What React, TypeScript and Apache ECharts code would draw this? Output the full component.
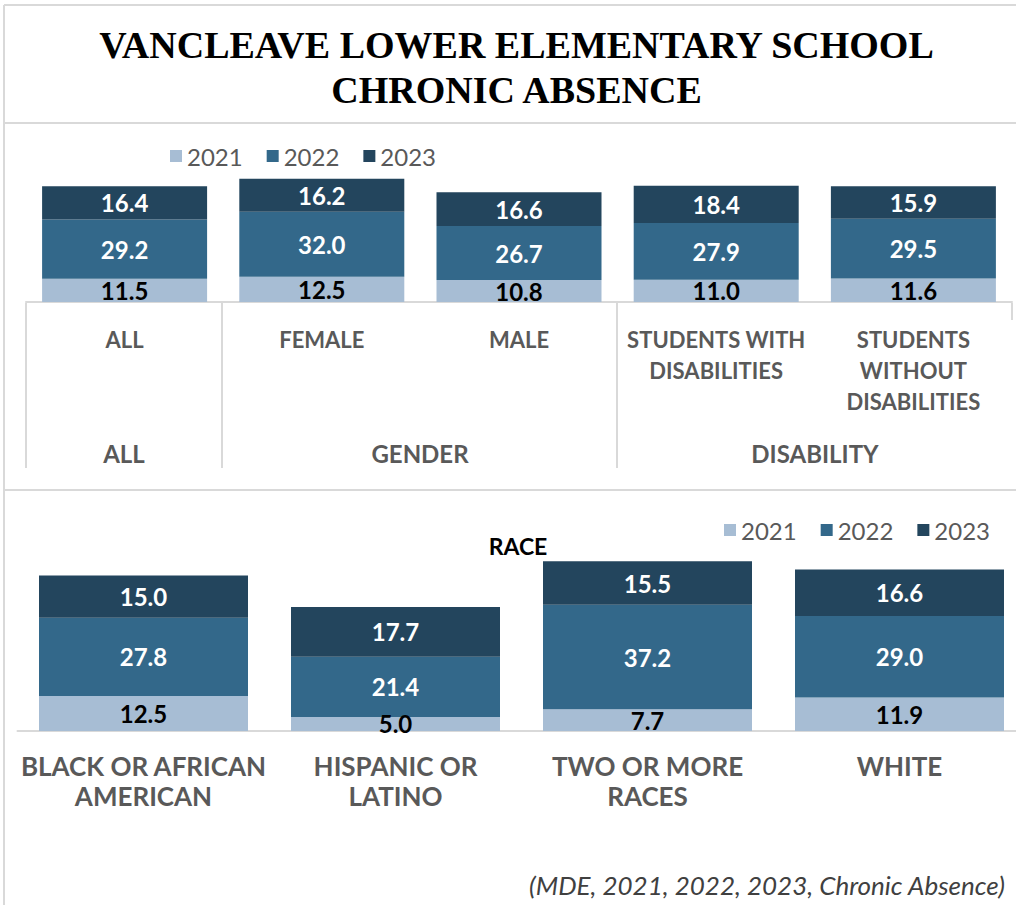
import React, { useEffect, useRef } from "react";
import * as echarts from "echarts";

const years = ["2021", "2022", "2023"];
const colors = ["#a7bdd4", "#33688a", "#23455d"];
const labelColors = ["#000000", "#ffffff", "#ffffff"];

const topCategories = ["ALL", "FEMALE", "MALE", "STUDENTS WITH\nDISABILITIES", "STUDENTS\nWITHOUT\nDISABILITIES"];
const top2021 = [11.5, 12.5, 10.8, 11.0, 11.6];
const top2022 = [29.2, 32.0, 26.7, 27.9, 29.5];
const top2023 = [16.4, 16.2, 16.6, 18.4, 15.9];
const topGroups = ["ALL", "GENDER", "DISABILITY"];

const raceCategories = ["BLACK OR AFRICAN\nAMERICAN", "HISPANIC OR\nLATINO", "TWO OR MORE\nRACES", "WHITE"];
const race2021 = [12.5, 5.0, 7.7, 11.9];
const race2022 = [27.8, 21.4, 37.2, 29.0];
const race2023 = [15.0, 17.7, 15.5, 16.6];

const titleText = "VANCLEAVE LOWER ELEMENTARY SCHOOL\nCHRONIC ABSENCE";
const raceTitle = "RACE";
const sourceText = "(MDE, 2021, 2022, 2023, Chronic Absence)";

const LABEL_FONT = "Lato, 'Open Sans', sans-serif";
const NUM_FONT = "Lato, 'Open Sans', sans-serif";

// canvas is slightly wider than the viewport; the extra strip on the right is cropped
const CANVAS_W = 1033;

export default function App() {
  const ref = useRef<HTMLDivElement>(null);
  useEffect(() => {
    if (!ref.current) return;
    const chart = echarts.init(ref.current, undefined, { renderer: "svg" });
    const topData = [top2021, top2022, top2023];
    const raceData = [race2021, race2022, race2023];

    const mkSeries = (data: number[][], axisIndex: number, barWidth: number) =>
      years.map((y, i) => ({
        name: y,
        type: "bar",
        stack: "s" + axisIndex,
        xAxisIndex: axisIndex,
        yAxisIndex: axisIndex,
        barWidth,
        data: data[i],
        itemStyle: { color: colors[i] },
        label: {
          show: true,
          position: "inside",
          color: labelColors[i],
          fontFamily: NUM_FONT,
          fontWeight: "bold",
          fontSize: 24,
          formatter: (p: any) => Number(p.value).toFixed(1),
        },
      }));

    const lineStyle = { stroke: "#d9d9d9", lineWidth: 2 };
    const tableLine = (x1: number, y1: number, x2: number, y2: number) => ({
      type: "line",
      shape: { x1, y1, x2, y2 },
      style: lineStyle,
      silent: true,
    });
    const groupX = [124, 420, 815];

    chart.setOption({
      animation: false,
      backgroundColor: "#ffffff",
      title: {
        text: titleText,
        left: "center",
        top: 17,
        textStyle: {
          fontFamily: "'Liberation Serif', 'DejaVu Serif', serif",
          fontWeight: "bold",
          fontSize: 38,
          lineHeight: 45,
          color: "#000000",
        },
      },
      legend: [
        {
          data: years,
          left: 165,
          top: 139,
          itemWidth: 12,
          itemHeight: 12,
          itemGap: 24,
          icon: "rect",
          textStyle: { fontFamily: NUM_FONT, fontSize: 24, color: "#595959" },
        },
        {
          data: years,
          left: 719,
          top: 513,
          itemWidth: 12,
          itemHeight: 12,
          itemGap: 24,
          icon: "rect",
          textStyle: { fontFamily: NUM_FONT, fontSize: 24, color: "#595959" },
        },
      ],
      grid: [
        { left: 26, right: CANVAS_W - 1012, top: 160, height: 142 },
        { left: 17.5, width: 1008, top: 534.3, height: 196.7 },
      ],
      xAxis: [
        {
          type: "category",
          gridIndex: 0,
          data: topCategories,
          axisLine: { show: true, lineStyle: { color: "#d9d9d9", width: 2 } },
          axisTick: { show: false },
          axisLabel: {
            interval: 0,
            margin: 22,
            fontFamily: LABEL_FONT,
            fontWeight: "bold",
            fontSize: 22,
            lineHeight: 31,
            color: "#595959",
            verticalAlign: "top",
          },
        },
        {
          type: "category",
          gridIndex: 1,
          data: raceCategories,
          axisLine: { show: true, lineStyle: { color: "#d9d9d9", width: 2 } },
          axisTick: { show: false },
          axisLabel: {
            interval: 0,
            margin: 20,
            fontFamily: LABEL_FONT,
            fontWeight: "bold",
            fontSize: 26,
            lineHeight: 30,
            color: "#595959",
            verticalAlign: "top",
          },
        },
      ],
      yAxis: [
        { type: "value", gridIndex: 0, min: 0, max: 70, show: false },
        { type: "value", gridIndex: 1, min: 0, max: 70, show: false },
      ],
      series: [...mkSeries(topData, 0, 165), ...mkSeries(raceData, 1, 209)],
      graphic: [
        tableLine(4, 5, CANVAS_W, 5),
        tableLine(4, 5, 4, 905),
        tableLine(4, 123, CANVAS_W, 123),
        tableLine(4, 490, CANVAS_W, 490),
        tableLine(26, 303, 26, 468),
        tableLine(222, 303, 222, 468),
        tableLine(617, 303, 617, 468),
        tableLine(1012, 303, 1012, 320),
        ...topGroups.map((g, i) => ({
          type: "text",
          x: groupX[i],
          y: 453,
          style: {
            text: g,
            fill: "#595959",
            font: `bold 24px ${LABEL_FONT}`,
            textAlign: "center",
            textVerticalAlign: "middle",
          },
        })),
        {
          type: "text",
          x: 518,
          y: 546,
          style: {
            text: raceTitle,
            fill: "#000000",
            font: `bold 23px ${NUM_FONT}`,
            textAlign: "center",
            textVerticalAlign: "middle",
          },
        },
        {
          type: "text",
          x: 1005,
          y: 885,
          style: {
            text: sourceText,
            fill: "#404040",
            font: `italic 26px ${NUM_FONT}`,
            textAlign: "right",
            textVerticalAlign: "middle",
          },
        },
      ],
    });
    return () => chart.dispose();
  }, []);
  return (
    <div
      ref={ref}
      style={{ position: "fixed", left: 0, top: 0, width: CANVAS_W, height: 905 }}
    />
  );
}
